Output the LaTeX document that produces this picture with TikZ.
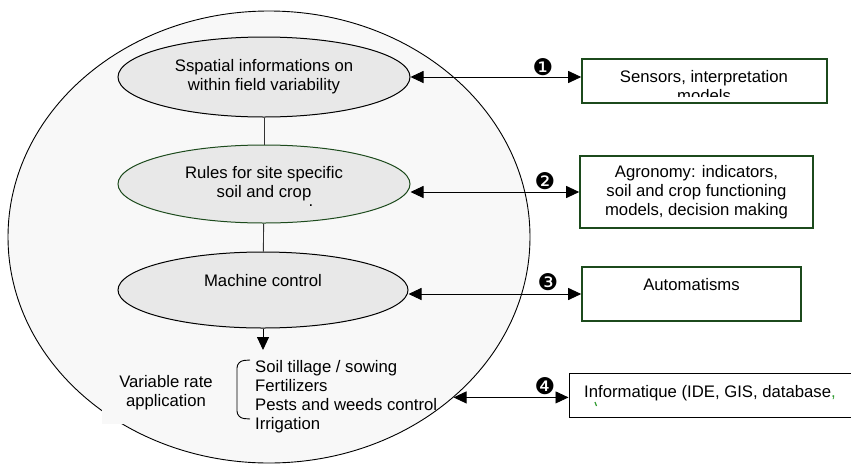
\documentclass[tikz,border=0pt]{standalone}
\usepackage{fontspec}
\setmainfont{Liberation Sans}
\newfontfamily\dingfont{DejaVu Sans}
\usepackage{xcolor}
\usetikzlibrary{shapes.geometric, arrows.meta, calc}
\definecolor{fieldgray}{HTML}{F8F8F8}
\definecolor{zonegray}{HTML}{E8E8E8}
\definecolor{darkgreen}{HTML}{1C4A1C}
\definecolor{commagreen}{HTML}{2E9A2E}

\begin{document}
\begin{tikzpicture}[x=1pt, y=-1pt, >={Triangle[length=13pt,width=12pt]}, font=\fontsize{16.7}{19}\selectfont,
                    zone/.style={ellipse, draw, fill=zonegray, line width=1pt, inner sep=0pt, minimum width=292pt, minimum height=78pt, align=center},
                    topic/.style={draw=darkgreen, line width=1.6pt, inner sep=0pt, align=center},
                    num/.style={font=\dingfont\fontsize{23}{23}\selectfont, inner sep=0pt},
                    link/.style={<->, line width=0.9pt}]
                      \useasboundingbox (0,0) rectangle (851,464);

                      % field
                      \node[ellipse, draw, fill=fieldgray, line width=0.9pt, minimum width=522pt, minimum height=452pt, inner sep=0pt] (field) at (269,237) {};

                      % levels
                      \node[zone, minimum height=80pt] (el1) at (264,77) {Sspatial informations on\\within field variability};
                      \node[zone, draw=darkgreen] (el2) at (264,184) {Rules for site specific\\soil and crop};
                      \node[inner sep=0pt] (dot) at (311,206) {.};
                      \node[zone, minimum width=290pt, minimum height=76pt] (el3) at (263,290) {Machine control\\\mbox{}};
                      \draw[line width=0.9pt, black!80] (el1) -- (el2);
                      \draw[line width=0.9pt, black!80] (el2) -- (el3);

                      % application
                      \coordinate (app) at (263,350);
                      \draw[->, line width=0.9pt] (el3) -- (app);
                      \node[fill=fieldgray, inner sep=0pt, minimum width=128pt, minimum height=62pt, align=center] (vra) at (166,393) {Variable rate\\application};
                      \node[anchor=west, inner sep=0pt, align=left] (list) at (255,396.5) {Soil tillage / sowing\\Fertilizers\\Pests and weeds control\\Irrigation};
                      \draw[line width=0.9pt, rounded corners=7pt] (250,360) -- (237,361) -- (237,418) -- (250,419);

                      % disciplines
                      \node[topic, minimum width=245pt, minimum height=44pt] (sens) at (704.5,81) {};
                      \begin{scope}
                        \clip (582,59) rectangle (827,96);
                        \node[inner sep=0pt, align=center] (senstext) at (704,86.5) {Sensors, interpretation\\models};
                      \end{scope}
                      \node[topic, minimum width=233pt, minimum height=72pt] (agro) at (696.5,192) {Agronomy: indicators,\\soil and crop functioning\\models, decision making};
                      \node[topic, minimum width=219pt, minimum height=54pt] (auto) at (691.5,294) {Automatisms\\\mbox{}};
                      \node[draw, line width=1pt, minimum width=286pt, minimum height=44pt, inner sep=0pt] (info) at (712,395) {};
                      \node[anchor=base west, inner sep=0pt] (infotext) at (584,397) {Informatique (IDE, GIS, database\textcolor{commagreen}{,}};
                      \draw[commagreen, line width=1.2pt] (595,402) -- (596.5,406);

                      % links
                      \draw[link] (el1) -- (el1 -| sens.west);
                      \draw[link] (agro.west) -- (agro.west -| el2.east);
                      \draw[link] (auto.west) -- (auto.west -| el3.east);
                      \draw[link] (field.-41) -- (field.-41 -| info.west);
                      \node[num] (n1) at (543,67) {❶};
                      \node[num] (n2) at (545,181) {❷};
                      \node[num] (n3) at (548,282) {❸};
                      \node[num] (n4) at (545,386) {❹};

                    \end{tikzpicture}
\end{document}
